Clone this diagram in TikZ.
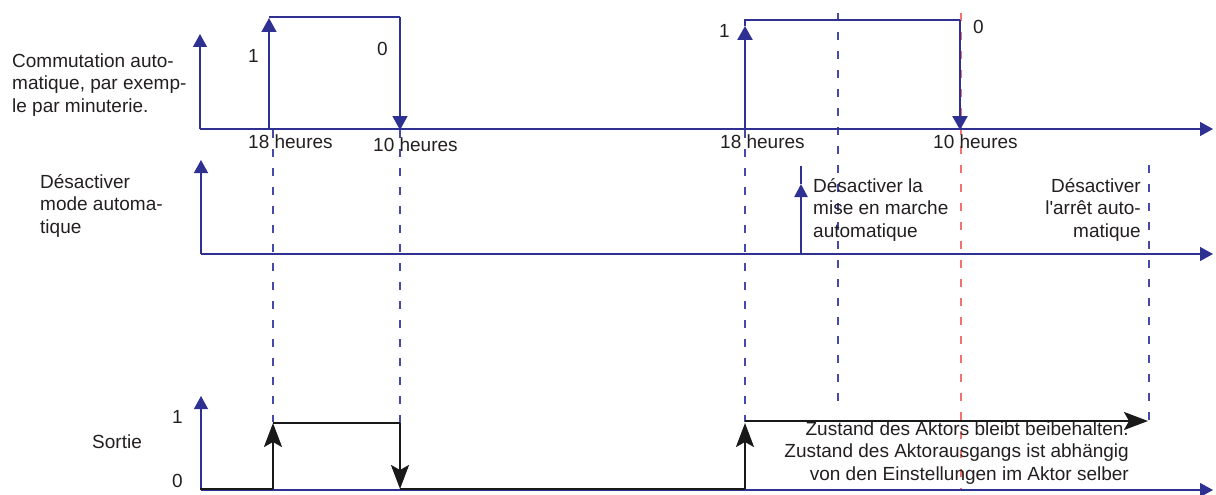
\documentclass[tikz,border=0pt]{standalone}
\usepackage{fontspec}
\setmainfont{Liberation Sans}
\usetikzlibrary{arrows.meta}
\definecolor{axisblue}{RGB}{46,49,146}
\definecolor{guideblue}{RGB}{70,72,170}
\definecolor{guidered}{RGB}{240,115,115}
\definecolor{ink}{RGB}{35,31,32}
\begin{document}
\begin{tikzpicture}[x=1pt,y=-1pt,
  lbl/.style={inner sep=0pt, font=\fontsize{19}{22.8}\selectfont, text=ink},
  axisline/.style={axisblue, line width=1.3pt, -{Triangle[length=13pt,width=14pt]}},
  pulse/.style={axisblue, line width=1.4pt},
  pulsebold/.style={axisblue, line width=2.4pt},
  bluehead/.style={-{Triangle[length=14pt,width=15pt]}},
  guide/.style={guideblue, line width=1.1pt, dash pattern=on 8pt off 11pt},
  guidehot/.style={guidered, line width=1.1pt, dash pattern=on 8pt off 11pt},
  outline/.style={black!90, line width=2.4pt},
  blackhead/.style={-{Stealth[length=24pt,width=18pt,inset=5pt]}}
]
\useasboundingbox (0,0) rectangle (1216,495);

% ---- guide lines across the three time lines
\draw[guide] (273,130) coordinate (g1a) -- (273,422) coordinate (g1b);
\draw[guide] (400,130) coordinate (g2a) -- (400,423) coordinate (g2b);
\draw[guide] (745,130) coordinate (g3a) -- (745,422) coordinate (g3b);
\draw[guide] (838,13) coordinate (g4a) -- (838,410) coordinate (g4b);
\draw[guidehot] (961,13) coordinate (g5a) -- (961,490) coordinate (g5b);
\draw[guide] (1149,165) coordinate (g6a) -- (1149,422) coordinate (g6b);

% ---- time line 1: automatic switching
\coordinate (o1) at (200,129);
\coordinate (o1x) at (1213,129);
\coordinate (o1y) at (200,34);
\draw[axisline] (o1) -- (o1x);
\draw[axisline] (o1) -- (o1y);

\coordinate (r1b) at (269,129);
\coordinate (r1t) at (269,18);
\coordinate (r1c) at (269,17);
\coordinate (f1c) at (400,17);
\coordinate (f1b) at (400,130);
\draw[pulse,bluehead] (r1b) -- (r1t);
\draw[pulse] (r1c) -- (f1c);
\draw[pulse,bluehead] (f1c) -- (f1b);

\coordinate (r2b) at (745,129);
\coordinate (r2h) at (745,26);
\coordinate (r2c) at (745,20);
\coordinate (f2c) at (960,20);
\coordinate (f2b) at (960,130);
\draw[pulsebold,bluehead] (r2b) -- (r2h);
\draw[pulsebold] (r2h) -- (r2c) -- (f2c);
\draw[pulsebold,bluehead] (f2c) -- (f2b);

% multi-line labels are placed by the baseline of their last line
\node[lbl, anchor=base west, align=left] (tcomm) at (12,112.6)
  {Commutation auto-\\matique, par exemp-\\le par minuterie.};
\node[lbl, anchor=base west] (on1) at (248,63) {1};
\node[lbl, anchor=base west] (off1) at (377,56) {0};
\node[lbl, anchor=base west] (on2) at (719,38) {1};
\node[lbl, anchor=base west] (off2) at (973,34) {0};
\node[lbl, anchor=base west] (h18a) at (248,148) {18 heures};
\node[lbl, anchor=base west] (h10a) at (373,151) {10 heures};
\node[lbl, anchor=base west] (h18b) at (720,148) {18 heures};
\node[lbl, anchor=base west] (h10b) at (933,148) {10 heures};

% ---- time line 2: disabling automatic mode
\coordinate (o2) at (201,254);
\coordinate (o2x) at (1213,254);
\coordinate (o2y) at (201,160);
\draw[axisline] (o2) -- (o2x);
\draw[axisline] (o2) -- (o2y);

\coordinate (d1b) at (801,253);
\coordinate (d1h) at (801,184);
\coordinate (d1t) at (801,166);
\draw[pulsebold,-{Triangle[length=13pt,width=13pt]}] (d1b) -- (d1h);
\draw[pulsebold] (d1h) -- (d1t);

\node[lbl, anchor=base west, align=left] (tdes) at (40,233.6)
  {Désactiver\\mode automa-\\tique};
\node[lbl, anchor=base west, align=left] (tmise) at (813,237.6)
  {Désactiver la\\mise en marche\\automatique};
\node[lbl, anchor=base east, align=right] (tarret) at (1141,237.6)
  {Désactiver\\l\textquotesingle arrêt auto-\\matique};

% ---- time line 3: output
\coordinate (o3) at (201,490);
\coordinate (o3x) at (1213,490);
\coordinate (o3y) at (201,396);
\draw[axisblue, line width=1.1pt, -{Triangle[length=13pt,width=14pt]}] (o3) -- (o3x);
\draw[axisblue, line width=1.1pt, -{Triangle[length=13pt,width=14pt]}] (o3) -- (o3y);

\coordinate (s0) at (200,489);
\coordinate (s1) at (273,489);
\coordinate (s2) at (273,423);
\coordinate (s3) at (400,423);
\coordinate (s4) at (400,489);
\coordinate (s5) at (745,489);
\coordinate (s6) at (745,423);
\coordinate (s7) at (745,421);
\coordinate (s8) at (1148,421);
\draw[outline] (s0) -- (s1);
\draw[outline,blackhead] (s1) -- (s2);
\draw[outline] (s2) -- (s3);
\draw[outline,blackhead] (s3) -- (s4);
\draw[outline] (s4) -- (s5);
\draw[outline,blackhead] (s5) -- (s6);
\draw[outline,blackhead] (s7) -- (s8);

\node[lbl, anchor=base west] (tsortie) at (92,448) {Sortie};
\node[lbl, anchor=base west] (lvl1) at (172,423) {1};
\node[lbl, anchor=base west] (lvl0) at (172,487) {0};
\node[lbl, anchor=base east, align=right] (tzust) at (1129,480.6)
  {Zustand des Aktors bleibt beibehalten.\\Zustand des Aktorausgangs ist abhängig\\von den Einstellungen im Aktor selber};
\end{tikzpicture}
\end{document}
